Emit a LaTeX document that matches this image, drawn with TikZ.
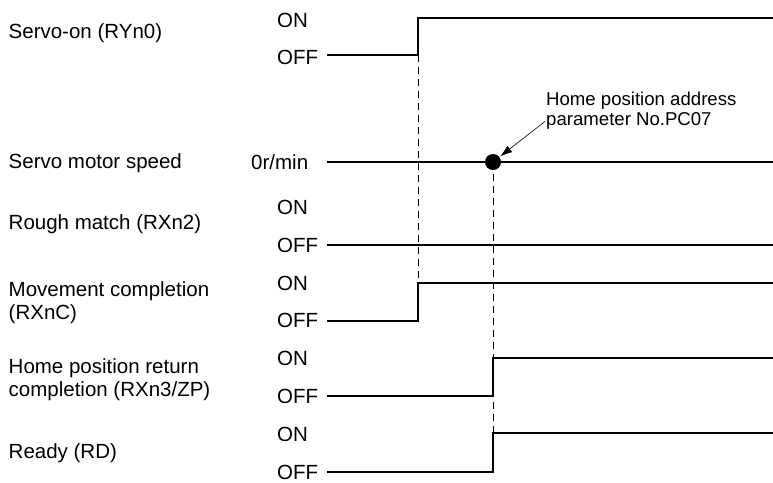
\documentclass[tikz,border=0pt]{standalone}
\usepackage{fontspec}
\setmainfont{Liberation Sans}
\usetikzlibrary{arrows.meta}
\begin{document}
\begin{tikzpicture}[x=1pt,y=-1pt,
  lbl/.style={anchor=base west,inner sep=0pt,font=\fontsize{20.5}{23}\selectfont},
  note/.style={anchor=base west,inner sep=0pt,font=\fontsize{18.6}{20.5}\selectfont},
  sig/.style={line width=1.3pt,line join=miter},
  sigthick/.style={line width=2pt},
  guide/.style={line width=0.9pt,dash pattern=on 7pt off 5pt},
  pointer/.style={line width=0.6pt,-{Latex[length=12pt,width=8pt]},shorten >=1pt},
]
\useasboundingbox (0,0) rectangle (773,482);

% signal names
\node[lbl] (n1) at (8.5,38) {Servo-on (RYn0)};
\node[lbl] (n2) at (8.5,168.5) {Servo motor speed};
\node[lbl] (n3) at (8.5,229.5) {Rough match (RXn2)};
\node[lbl] (n4a) at (8.5,296.5) {Movement completion};
\node[lbl] (n4b) at (8.5,319.5) {(RXnC)};
\node[lbl] (n5a) at (8.5,373) {Home position return};
\node[lbl] (n5b) at (8.5,396.5) {completion (RXn3/ZP)};
\node[lbl] (n6) at (8.5,458) {Ready (RD)};

% level names
\node[lbl] (on1) at (277,27) {ON};
\node[lbl] (off1) at (277,64) {OFF};
\node[lbl] (zero) at (251,169) {0r/min};
\node[lbl] (on3) at (277,214) {ON};
\node[lbl] (off3) at (277,252) {OFF};
\node[lbl] (on4) at (277,290) {ON};
\node[lbl] (off4) at (277,327.5) {OFF};
\node[lbl] (on5) at (277,365) {ON};
\node[lbl] (off5) at (277,403) {OFF};
\node[lbl] (on6) at (277,441) {ON};
\node[lbl] (off6) at (277,479) {OFF};

% timing guides
\draw[guide] (418,55) -- (418,283);
\draw[guide] (493,162) -- (493,433);

% waveforms
\draw[sig] (327,55) -- (418,55) -- (418,18) -- (773,18);
\draw[sigthick] (327,162) -- (773,162);
\draw[sigthick] (327,245) -- (773,245);
\draw[sig] (327,321) -- (418,321) -- (418,283) -- (773,283);
\draw[sig] (327,396) -- (493,396) -- (493,358) -- (773,358);
\draw[sig] (327,472) -- (493,472) -- (493,433) -- (773,433);

% home position point
\node[circle,fill=black,inner sep=0pt,minimum size=16pt] (dot) at (493,162) {};

% annotation
\node[note] (note1) at (546,105) {Home position address};
\node[note] (note2) at (546,125) {parameter No.PC07};
\draw[pointer] ([xshift=-1pt,yshift=-1pt]note2.west) -- (dot);
\end{tikzpicture}
\end{document}
